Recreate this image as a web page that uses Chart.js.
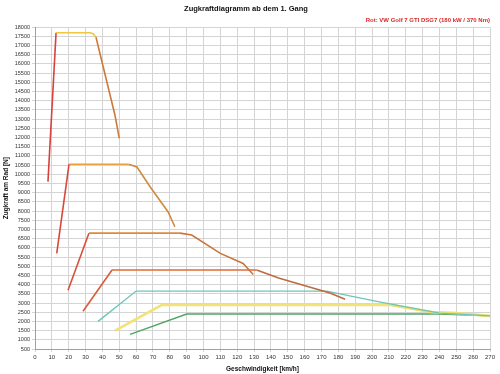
<!DOCTYPE html>
<html>
<head>
<meta charset="utf-8">
<script src="https://cdn.jsdelivr.net/npm/chart.js@4.4.1/dist/chart.umd.min.js"></script>
<style>
  html, body { margin: 0; padding: 0; background: #fff; }
  #wrap { width: 500px; height: 374px; }
</style>
</head>
<body>
<div id="wrap"><canvas id="myChart" width="500" height="374"></canvas></div>
<script>
// Geschwindigkeit [km/h] und Zugkraft [N] je Gang
const gear1Speed = [7.7, 12.5, 32.6, 34.5, 36.2, 47.5, 50];
const gear1Force = [9600, 17700, 17700, 17650, 17450, 13200, 11950];
const gear2Speed = [12.9, 20.2, 55.5, 60.5, 68.5, 79, 83];
const gear2Force = [5700, 10550, 10550, 10400, 9300, 7950, 7150];
const gear3Speed = [19.6, 32, 86, 93, 110, 123.5, 129.5];
const gear3Force = [3700, 6800, 6800, 6700, 5700, 5150, 4550];
const gear4Speed = [28.5, 45.7, 131.5, 145, 175, 184];
const gear4Force = [2550, 4800, 4800, 4350, 3550, 3200];
const gear5Speed = [37.4, 60, 173, 205, 240, 270];
const gear5Force = [2000, 3650, 3650, 3050, 2450, 2300];
const gear6Speed = [47.5, 75.4, 211, 235.5, 250, 270];
const gear6Force = [1500, 2900, 2900, 2500, 2450, 2300];
const gear7Speed = [56.4, 90, 240, 270];
const gear7Force = [1300, 2400, 2400, 2300];

const gearLabels = ['1. Gang', '2. Gang', '3. Gang', '4. Gang', '5. Gang', '6. Gang', '7. Gang'];
// Farben: Anstieg / Plateau / Abfall
const riseColors = ['#d9413d', '#d9483b', '#d8503c', '#d85a3a', '#6cc6b8', '#f2e27a', '#4fa466'];
const flatColors = ['#f0c640', '#e6a040', '#e0883c', '#e06a34', '#6cc6b8', '#f2e27a', '#4fa466'];
const dropColors = ['#d07a3a', '#cf8a40', '#c8763e', '#bf6a40', '#6cc6b8', '#ece070', '#4fa466'];
const gearWidths = [1.6, 1.6, 1.6, 1.6, 1.4, 2.8, 1.4];
// letzter Index des Plateaus (inkl. Rundung)
const flatEnd = [3, 1, 1, 1, 1, 1, 1];

const speeds = [gear1Speed, gear2Speed, gear3Speed, gear4Speed, gear5Speed, gear6Speed, gear7Speed];
const forces = [gear1Force, gear2Force, gear3Force, gear4Force, gear5Force, gear6Force, gear7Force];

const datasets = speeds.map((sp, i) => ({
    label: gearLabels[i],
    data: sp.map((v, k) => ({ x: v, y: forces[i][k] })),
    borderColor: flatColors[i],
    borderWidth: gearWidths[i],
    pointRadius: 0,
    tension: 0,
    fill: false,
    segment: {
        borderColor: ctx => {
            if (ctx.p0DataIndex === 0) return riseColors[i];
            if (ctx.p0DataIndex <= flatEnd[i]) return flatColors[i];
            return dropColors[i];
        }
    }
}));

const axisFont = { family: 'Liberation Sans', size: 6 };
const titleFont = { family: 'Liberation Sans', size: 6.5, weight: 'bold' };

const ctx = document.getElementById('myChart').getContext('2d');
const myChart = new Chart(ctx, {
    type: 'line',
    data: { datasets: datasets },
    options: {
        responsive: false,
        animation: false,
        layout: { padding: { left: 2, right: 10, top: 0, bottom: 0 } },
        plugins: {
            legend: { display: false },
            tooltip: { enabled: false },
            title: {
                display: true,
                text: 'Zugkraftdiagramm ab dem 1. Gang',
                color: '#111',
                font: { family: 'Liberation Sans', size: 7.5, weight: 'bold' },
                padding: { top: 4, bottom: 1 }
            },
            subtitle: {
                display: true,
                text: 'Rot: VW Golf 7 GTI DSG7 (180 kW / 370 Nm)',
                align: 'end',
                color: '#d42a2a',
                font: { family: 'Liberation Sans', size: 6, weight: 'bold' },
                padding: { top: 3, bottom: 3 }
            }
        },
        scales: {
            x: {
                type: 'linear',
                min: 0,
                max: 270,
                ticks: {
                    stepSize: 10,
                    autoSkip: false,
                    maxRotation: 0,
                    color: '#333',
                    font: axisFont,
                    padding: 2
                },
                grid: { color: '#d4d4d4', lineWidth: 1, tickLength: 3 },
                border: { color: '#a0a0a0' },
                title: {
                    display: true,
                    text: 'Geschwindigkeit [km/h]',
                    color: '#111',
                    font: titleFont,
                    padding: { top: 2, bottom: 1 }
                }
            },
            y: {
                type: 'linear',
                min: 500,
                max: 18000,
                afterFit: scale => { scale.width = 33; },
                ticks: {
                    stepSize: 500,
                    autoSkip: false,
                    color: '#333',
                    font: { family: 'Liberation Sans', size: 5.5 },
                    padding: 2,
                    callback: value => String(value)
                },
                grid: { color: '#d4d4d4', lineWidth: 1, tickLength: 3 },
                border: { color: '#a0a0a0' },
                title: {
                    display: true,
                    text: 'Zugkraft am Rad [N]',
                    color: '#111',
                    font: titleFont,
                    padding: 0
                }
            }
        }
    }
});
</script>
</body>
</html>
